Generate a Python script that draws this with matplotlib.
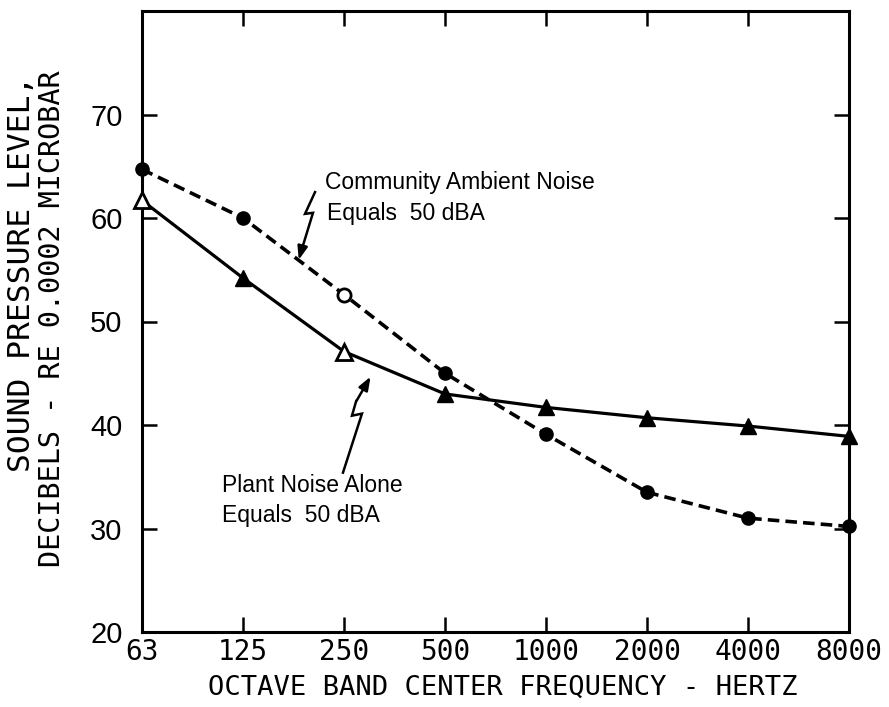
import matplotlib
matplotlib.use("Agg")
import matplotlib.pyplot as plt
import numpy as np

# ---- data ----
freq_labels = ["63", "125", "250", "500", "1000", "2000", "4000", "8000"]
community_db = [64.7, 60.0, 52.6, 45.0, 39.1, 33.5, 31.0, 30.2]
plant_db = [61.7, 54.2, 47.1, 43.0, 41.7, 40.7, 39.9, 38.9]
y_ticks = [20, 30, 40, 50, 60, 70]
hollow_plant_idx = [0, 2]
hollow_comm_idx = [2]

x = np.arange(len(freq_labels))

fig = plt.figure(figsize=(8.89, 7.07), dpi=100)
ax = fig.add_axes([142/889, 1-632/707, (849-142)/889, (632-11)/707])

ax.plot(x, community_db, color="black", lw=2.6, linestyle=(0, (3.2, 1.7)),
        marker="o", markersize=9.5, markerfacecolor="black", zorder=3, clip_on=False)
ax.plot(x, plant_db, color="black", lw=2.3, linestyle="-",
        marker="^", markersize=11, markerfacecolor="black", zorder=3, clip_on=False)
# scan-like hollow markers
ax.plot(x[hollow_plant_idx], np.array(plant_db)[hollow_plant_idx], linestyle="none",
        marker="^", markersize=11, markerfacecolor="white", markeredgecolor="black",
        markeredgewidth=2, zorder=4, clip_on=False)
ax.plot(x[hollow_comm_idx], np.array(community_db)[hollow_comm_idx], linestyle="none",
        marker="o", markersize=9.5, markerfacecolor="white", markeredgecolor="black",
        markeredgewidth=2, zorder=4, clip_on=False)

ax.set_xlim(0, 7)
ax.set_ylim(20, 80)
ax.set_xticks(x)
ax.set_xticklabels(freq_labels, family="DejaVu Sans Mono", fontsize=20)
ax.set_yticks(y_ticks)
ax.set_yticklabels([str(v) for v in y_ticks], family="Liberation Sans", fontsize=21)

ax.tick_params(axis="both", direction="in", length=11, width=1.8,
               top=True, right=True, colors="black")
ax.tick_params(axis="x", pad=4)
ax.tick_params(axis="y", pad=14)
for s in ax.spines.values():
    s.set_linewidth(2.2)

# annotations
txt_kw = dict(fontsize=16.5, family="Liberation Sans",
              color="black", va="center", ha="left")
ax.text(1.81, 63.4, "Community Ambient Noise", **txt_kw)
ax.text(1.83, 60.45, "Equals  50 dBA", **txt_kw)
ax.text(0.79, 34.15, "Plant Noise Alone", **txt_kw)
ax.text(0.79, 31.3, "Equals  50 dBA", **txt_kw)

# lightning-bolt arrows
bolt1 = [(1.713, 62.5), (1.614, 60.4), (1.693, 60.5), (1.58, 56.9)]
bx, by = zip(*bolt1)
ax.plot(bx, by, color="black", lw=1.8, solid_joinstyle="miter")
ax.annotate("", xy=(1.545, 55.7), xytext=(1.59, 57.3),
            arrowprops=dict(arrowstyle="-|>,head_length=0.8,head_width=0.3",
                            color="black", lw=1.8))

bolt2 = [(1.99, 35.4), (2.178, 41.1), (2.079, 40.9), (2.12, 42.3)]
bx, by = zip(*bolt2)
ax.plot(bx, by, color="black", lw=1.8, solid_joinstyle="miter")
ax.annotate("", xy=(2.277, 44.9), xytext=(2.11, 42.1),
            arrowprops=dict(arrowstyle="-|>,head_length=0.8,head_width=0.3",
                            color="black", lw=1.8))

# axis labels
fig.text(503/889, 1-688/707, "OCTAVE BAND CENTER FREQUENCY - HERTZ",
         family="DejaVu Sans Mono", fontsize=19.5, ha="center", va="center")
fig.text(22/889, 1-274/707, "SOUND PRESSURE LEVEL,", family="DejaVu Sans Mono",
         fontsize=22.5, rotation=90, ha="center", va="center")
fig.text(52/889, 1-319/707, "DECIBELS - RE 0.0002 MICROBAR", family="DejaVu Sans Mono",
         fontsize=20.5, rotation=90, ha="center", va="center")

fig.savefig("out.png", dpi=100)
